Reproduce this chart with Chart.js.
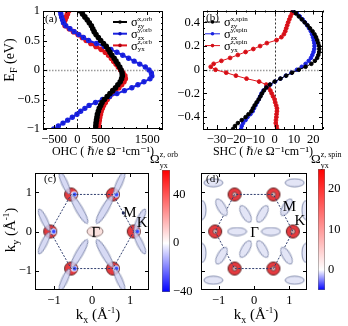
<!DOCTYPE html>
<html><head><meta charset="utf-8">
<script src="https://cdn.jsdelivr.net/npm/chart.js@4"></script>
<style>
html,body{margin:0;padding:0;background:#fff;}
#wrap{position:relative;width:348px;height:326px;overflow:hidden;background:#fff;}
canvas{position:absolute;}
</style></head><body><div id="wrap">
<canvas id="ca" width="175" height="162" style="left:0;top:0"></canvas>
<canvas id="cb" width="173" height="162" style="left:175px;top:0"></canvas>
<canvas id="cc" width="160" height="164" style="left:0;top:162px"></canvas>
<canvas id="cd" width="128" height="164" style="left:190px;top:162px"></canvas>
<canvas id="cbc" width="50" height="178" style="left:145px;top:148px"></canvas>
<canvas id="cbd" width="48" height="178" style="left:300px;top:148px"></canvas>
</div>
<script>
// ================= DATA =================
// Panel (a): orbital Hall conductivity vs Fermi energy
const ohcE = [1.00,0.95,0.90,0.85,0.80,0.75,0.70,0.65,0.60,0.55,0.50,0.45,0.40,0.35,0.30,0.25,0.20,0.15,0.10,0.05,0.00,
  -0.05,-0.10,-0.15,-0.20,-0.25,-0.30,-0.35,-0.40,-0.45,-0.50,-0.55,-0.60,-0.65,-0.70,-0.75,-0.80,-0.85,-0.90,-0.95,-1.00];
const ohcZY_xorb = [60,110,160,210,255,300,330,360,400,450,500,560,620,660,700,740,790,830,870,910,940,
  960,965,950,920,870,820,760,700,640,580,530,500,470,450,430,420,410,400,395,390];
const ohcZX_yorb = [-370,-355,-340,-320,-300,-250,-160,-70,30,130,240,410,580,720,850,975,1100,1220,1340,1460,1540,
  1590,1600,1560,1430,1300,1170,1010,850,690,540,390,250,160,70,-10,-110,-210,-310,-410,-510];
const ohcYX_zorb = [-190,-215,-240,-265,-290,-265,-175,-85,15,105,190,290,400,510,600,670,730,780,830,880,930,
  980,1020,1030,1000,950,890,820,750,690,640,600,560,535,510,495,480,470,460,455,450];
const ohcTicks = [-500,0,500,1500];
const eTicksA = [-1,-0.5,0,0.5,1];

// Panel (b): spin Hall conductivity vs Fermi energy
const shcE = [0.5,0.475,0.45,0.425,0.4,0.375,0.35,0.325,0.3,0.275,0.25,0.225,0.2,0.175,0.15,0.125,0.1,0.075,0.05,0.025,0,
  -0.025,-0.05,-0.075,-0.1,-0.125,-0.15,-0.175,-0.2,-0.225,-0.25,-0.275,-0.3,-0.325,-0.35,-0.375,-0.4,-0.425,-0.45,-0.475,-0.5];
const shcZY_xspin = [9.5,11,12.5,14,15.5,17,18.3,19.6,20.6,21.4,22,22.5,23,23.1,23,22.6,22,20.8,19,16,12.5,
  9,6,3,0,-2.5,-4.3,-5.5,-6.5,-7.3,-8.2,-9.3,-10.3,-11.2,-12,-13.5,-15,-17,-19,-20.5,-21.5];
const shcZX_yspin = [9.8,11.5,13,14.5,15.7,16.8,17.8,18.7,19.3,19.8,20.2,20.5,20.6,20.5,20.1,19.5,18.8,17.6,16,14,11.5,
  8.7,5.8,3,0.3,-2.2,-4.3,-5.8,-6.8,-7.5,-8.2,-9,-9.8,-10.6,-11.3,-12.5,-14,-15,-16.3,-17,-17.3];
const shcYX_zspin = [9.5,9,8.2,7.6,7,6.5,6,5.5,4.8,3.5,1,-4,-7.5,-11,-15,-19,-23,-27.5,-31.5,-33,-30.5,
  -25,-20,-14.5,-8,-4.3,-3.2,-2.2,-1.5,-0.8,0,0.3,0.8,1.2,1.2,1,0.9,0.7,0.6,1,1.3];
const shcTicks = [-30,-20,-10,0,10,20];
const eTicksB = [-0.4,-0.2,0,0.2,0.4];

// Panels (c),(d): Brillouin zone maps
const kTicks = [-1,0,1];
const hexKx = [1.1,0.55,-0.55,-1.1,-0.55,0.55,1.1];
const hexKy = [0,0.95,0.95,0,-0.95,-0.95,0];
const mPointX = [0.825];
const mPointY = [0.476];
const labelText = ['Γ','M','K'];
const labelCx = [0.1,1.0,1.32];
const labelCy = [-0.05,0.46,0.22];
const labelDx = [0.02,1.0,1.3];
const labelDy = [-0.05,0.62,0.26];
// (c) orbital Berry curvature lobes (blue-grey): long inner lobes and short outer lobes (kx, ky, orientation deg)
const orbInX = [-0.33,0.33,-0.33,0.33];
const orbInY = [0.56,0.56,-0.56,-0.56];
const orbInA = [-60,60,60,-60];
const orbOutX = [-0.72,0.72,-0.72,0.72,-1.26,-1.26,1.26,1.26];
const orbOutY = [1.24,1.24,-1.24,-1.24,0.3,-0.3,0.3,-0.3];
const orbOutA = [-66,66,66,-66,-64,64,64,-64];
const orbGammaX = [0.08];
const orbGammaY = [0.0];
// (d) spin Berry curvature ellipses
const spinLobeX = [-0.48,0.48,-0.24,0.24,-0.24,0.24,-1.15,1.15,-1.15,1.15,-0.92,0.92,-0.92,0.92,-1.47,1.47,-1.47,1.47];
const spinLobeY = [0,0,0.45,0.45,-0.45,-0.45,1.25,1.25,-1.25,-1.25,0.62,0.62,-0.62,-0.62,0.55,0.55,-0.55,-0.55];
const spinLobeA = [0,0,-60,60,60,-60,0,0,0,0,-60,60,60,-60,90,90,90,90];
const cbOrbTicks = [-40,0,40];
const cbOrbMin = -40, cbOrbMax = 60;
const cbSpinTicks = [0,10,20];
const cbSpinMin = -5, cbSpinMax = 25;

// legend labels (sigma sup/sub)
const legA = [{sup:'x,orb',sub:'zy'},{sup:'y,orb',sub:'zx'},{sup:'z,orb',sub:'yx'}];
const legB = [{sup:'x,spin',sub:'zy'},{sup:'y,spin',sub:'zx'},{sup:'z,spin',sub:'yx'}];

// ================= HELPERS =================
const FAM = '"Liberation Serif","DejaVu Serif",serif';
const pts = (xs, ys) => xs.map((x, i) => ({x: x, y: ys[i]}));
const minus = v => String(v).replace('-', '\u2212');

function partWidth(ctx, p) {
  if (p.stack) {
    ctx.font = p.stack.s + 'px ' + FAM;
    return Math.max(ctx.measureText(p.stack.sup).width, ctx.measureText(p.stack.sub).width);
  }
  ctx.font = (p.it ? 'italic ' : '') + p.s + 'px ' + FAM;
  return ctx.measureText(p.t).width;
}
function drawRich(ctx, parts, x, y, align, rot) {
  ctx.save();
  ctx.translate(x, y);
  if (rot) ctx.rotate(rot);
  let w = 0;
  parts.forEach(p => w += partWidth(ctx, p));
  let cx = align === 'center' ? -w / 2 : (align === 'right' ? -w : 0);
  ctx.fillStyle = '#000';
  ctx.textBaseline = 'alphabetic';
  ctx.textAlign = 'left';
  parts.forEach(p => {
    const pw = partWidth(ctx, p);
    if (p.stack) {
      ctx.font = p.stack.s + 'px ' + FAM;
      ctx.fillText(p.stack.sup, cx, p.stack.upY);
      ctx.fillText(p.stack.sub, cx, p.stack.dnY);
    } else {
      ctx.font = (p.it ? 'italic ' : '') + p.s + 'px ' + FAM;
      ctx.fillText(p.t, cx, p.dy || 0);
    }
    cx += pw;
  });
  ctx.restore();
}

const richPlugin = {
  id: 'rich',
  afterDraw(chart, args, opts) {
    (opts.items || []).forEach(it => drawRich(chart.ctx, it.parts, it.x, it.y, it.align, it.rot));
  }
};

const framePlugin = {
  id: 'frame',
  afterDraw(chart, args, opts) {
    const {ctx, chartArea: a, scales} = chart;
    ctx.save();
    ctx.strokeStyle = '#000';
    ctx.lineWidth = 1;
    ctx.strokeRect(Math.round(a.left) + 0.5, Math.round(a.top) + 0.5, Math.round(a.right - a.left) - 1, Math.round(a.bottom - a.top) - 1);
    const tick = (v, sc, len) => {
      const p = Math.round(sc.getPixelForValue(v)) + 0.5;
      ctx.beginPath();
      if (sc.axis === 'x') {
        ctx.moveTo(p, a.bottom); ctx.lineTo(p, a.bottom - len);
        ctx.moveTo(p, a.top); ctx.lineTo(p, a.top + len);
      } else {
        ctx.moveTo(a.left, p); ctx.lineTo(a.left + len, p);
        ctx.moveTo(a.right, p); ctx.lineTo(a.right - len, p);
      }
      ctx.stroke();
    };
    ['x', 'y'].forEach(k => {
      const sc = scales[k];
      if (!sc) return;
      sc.ticks.forEach(t => tick(t.value, sc, 4));
      const m = opts.minor && opts.minor[k];
      if (m) {
        for (let v = Math.ceil(sc.min / m) * m; v <= sc.max; v += m) tick(v, sc, 2);
      }
    });
    ctx.restore();
  }
};

const zeroPlugin = {
  id: 'zero',
  beforeDatasetsDraw(chart, args, opts) {
    if (!opts.on) return;
    const {ctx, chartArea: a, scales} = chart;
    ctx.save();
    const x0 = Math.round(scales.x.getPixelForValue(0)) + 0.5;
    const y0 = Math.round(scales.y.getPixelForValue(0)) + 0.5;
    ctx.strokeStyle = '#9a9a9a'; ctx.lineWidth = 1.5; ctx.setLineDash([1.5, 1.5]);
    ctx.beginPath(); ctx.moveTo(a.left, y0); ctx.lineTo(a.right, y0); ctx.stroke();
    ctx.strokeStyle = '#333'; ctx.lineWidth = 1; ctx.setLineDash([2, 2]);
    ctx.beginPath(); ctx.moveTo(x0, a.top); ctx.lineTo(x0, a.bottom); ctx.stroke();
    ctx.restore();
  }
};

const legendPlugin = {
  id: 'sigLeg',
  afterDraw(chart, args, opts) {
    if (!opts.items) return;
    const ctx = chart.ctx;
    opts.items.forEach((it, i) => {
      const ds = chart.data.datasets[i];
      const y = opts.y0 + i * opts.dy;
      ctx.save();
      ctx.strokeStyle = ds.borderColor; ctx.lineWidth = opts.lw;
      ctx.beginPath(); ctx.moveTo(opts.x0, y); ctx.lineTo(opts.x0 + opts.len, y); ctx.stroke();
      ctx.fillStyle = ds.backgroundColor;
      ctx.beginPath(); ctx.arc(opts.x0 + opts.len / 2, y, opts.pr, 0, Math.PI * 2); ctx.fill();
      ctx.restore();
      drawRich(ctx, [{t: 'σ', s: 12.5, dy: 4.3}, {stack: {sup: it.sup, sub: it.sub, s: 7, upY: -1.5, dnY: 6}}],
        opts.x0 + opts.len + 4, y, 'left', 0);
    });
  }
};

const textLabelPlugin = {
  id: 'klabels',
  afterDatasetsDraw(chart, args, opts) {
    if (!opts.text) return;
    const {ctx, scales} = chart;
    ctx.save();
    ctx.font = '15px ' + FAM; ctx.fillStyle = '#000';
    ctx.textAlign = 'center'; ctx.textBaseline = 'middle';
    opts.text.forEach((t, i) => ctx.fillText(t, scales.x.getPixelForValue(opts.xs[i]), scales.y.getPixelForValue(opts.ys[i])));
    ctx.restore();
  }
};

function ellipseImg(w, h, fill, stroke) {
  const c = document.createElement('canvas');
  c.width = w + 2; c.height = h + 2;
  const g = c.getContext('2d');
  g.beginPath();
  g.ellipse(c.width / 2, c.height / 2, w / 2, h / 2, 0, 0, Math.PI * 2);
  g.fillStyle = fill; g.fill();
  g.lineWidth = 0.7; g.strokeStyle = stroke; g.stroke();
  return c;
}
function kCircleImg(blueDot) {
  const c = document.createElement('canvas');
  c.width = 16; c.height = 16;
  const g = c.getContext('2d');
  g.beginPath(); g.arc(8, 8, 6.5, 0, Math.PI * 2);
  g.fillStyle = '#e63a3f'; g.fill();
  g.lineWidth = 1; g.strokeStyle = '#5a2020'; g.stroke();
  if (blueDot) {
    g.beginPath(); g.arc(11, 8, 3.2, 0, Math.PI * 2); g.fillStyle = '#dfe3ff'; g.fill();
    g.beginPath(); g.arc(11.5, 8, 2, 0, Math.PI * 2); g.fillStyle = '#3348ff'; g.fill();
  } else {
    g.beginPath(); g.arc(8, 8, 2.2, 0, Math.PI * 2); g.fillStyle = '#f4c0c0'; g.fill();
    g.lineWidth = 0.7; g.strokeStyle = '#333'; g.stroke();
  }
  return c;
}

const tickFont = {family: FAM, size: 12.5};
const baseOpts = () => ({
  responsive: false, animation: false, devicePixelRatio: 1,
  events: [],
  plugins: {legend: {display: false}, tooltip: {enabled: false}}
});
function linAxis(min, max, list, fitProp, fitVal, extra) {
  return Object.assign({
    type: 'linear', min: min, max: max,
    afterBuildTicks: s => { s.ticks = list.map(v => ({value: v})); },
    afterFit: s => { s[fitProp] = fitVal; },
    grid: {display: false, drawTicks: false},
    border: {display: false},
    ticks: {font: tickFont, color: '#000', padding: 3, maxRotation: 0, autoSkip: false, callback: v => minus(v)}
  }, extra || {});
}

// ================= PANEL (a) =================
(function () {
  const o = baseOpts();
  o.layout = {padding: {left: 0, right: 12, top: 11, bottom: 0}};
  o.scales = {
    x: linAxis(-740, 1840, ohcTicks, 'height', 33, {
      title: {display: true, text: 'OHC ( \u210F/e \u03A9\u207B\u00B9cm\u207B\u00B9)', font: {family: FAM, size: 12}, color: '#000', padding: {top: 0, bottom: 3}}
    }),
    y: linAxis(-1, 1, eTicksA, 'width', 43)
  };
  o.plugins.frame = {minor: {x: 250, y: 0.1}};
  o.plugins.zero = {on: true};
  o.plugins.rich = {items: [
    {parts: [{t: 'E', s: 14}, {t: 'F', s: 10, dy: 3}, {t: ' (eV)', s: 14}], x: 14, y: 60, align: 'center', rot: -Math.PI / 2},
    {parts: [{t: '(a)', s: 11}], x: 45, y: 22, align: 'left'}
  ]};
  o.plugins.sigLeg = {items: legA, x0: 113, y0: 22, dy: 11.7, len: 14, lw: 2, pr: 1.8};
  new Chart(document.getElementById('ca'), {
    type: 'scatter',
    data: {datasets: [
      {label: 'σ zy x,orb', data: pts(ohcZY_xorb, ohcE), showLine: true, borderColor: '#000000', backgroundColor: '#000000', borderWidth: 3, pointRadius: 1.3},
      {label: 'σ zx y,orb', data: pts(ohcZX_yorb, ohcE), showLine: true, borderColor: '#1a22e0', backgroundColor: '#0b10c0', borderWidth: 2, pointRadius: 1.7},
      {label: 'σ yx z,orb', data: pts(ohcYX_zorb, ohcE), showLine: true, borderColor: '#e0141c', backgroundColor: '#b00010', borderWidth: 3, pointRadius: 1.3}
    ]},
    options: o,
    plugins: [zeroPlugin, framePlugin, richPlugin, legendPlugin]
  });
})();

// ================= PANEL (b) =================
(function () {
  const o = baseOpts();
  o.layout = {padding: {left: 0, right: 25, top: 10, bottom: 0}};
  o.scales = {
    x: linAxis(-37, 25, shcTicks, 'height', 33, {
      title: {display: true, text: 'SHC ( \u210F/e \u03A9\u207B\u00B9cm\u207B\u00B9)', font: {family: FAM, size: 12}, color: '#000', padding: {top: 0, bottom: 3}}
    }),
    y: linAxis(-0.5, 0.5, eTicksB, 'width', 28)
  };
  o.plugins.frame = {minor: {x: 5, y: 0.05}};
  o.plugins.zero = {on: true};
  o.plugins.rich = {items: [
    {parts: [{t: '(b)', s: 11}], x: 31, y: 21, align: 'left'}
  ]};
  o.plugins.sigLeg = {items: legB, x0: 30, y0: 22, dy: 11.8, len: 15, lw: 1, pr: 1.8};
  new Chart(document.getElementById('cb'), {
    type: 'scatter',
    data: {datasets: [
      {label: 'σ zy x,spin', data: pts(shcZY_xspin, shcE), showLine: true, borderColor: '#000000', backgroundColor: '#000000', borderWidth: 1, pointRadius: 1.8},
      {label: 'σ zx y,spin', data: pts(shcZX_yspin, shcE), showLine: true, borderColor: '#1a22e0', backgroundColor: '#1a22e0', borderWidth: 1, pointRadius: 1.8},
      {label: 'σ yx z,spin', data: pts(shcYX_zspin, shcE), showLine: true, borderColor: '#e0141c', backgroundColor: '#d01018', borderWidth: 1, pointRadius: 1.9}
    ]},
    options: o,
    plugins: [zeroPlugin, framePlugin, richPlugin, legendPlugin]
  });
})();

// ================= PANELS (c),(d) =================
const lobeLong = ellipseImg(32, 7, 'rgba(208,212,242,0.85)', '#5a6690');
const lobeShort = ellipseImg(24, 6, 'rgba(208,212,242,0.85)', '#5a6690');
const lobeSpin = ellipseImg(19, 8, 'rgba(226,228,246,0.95)', '#5a6690');
const gammaBlob = ellipseImg(16, 10, 'rgba(250,225,222,1)', '#6a5050');
function bzChart(id, pad, showY, lobes, kImg, labels, extra) {
  const o = baseOpts();
  o.layout = {padding: pad};
  o.scales = {
    x: linAxis(-1.5, 1.5, kTicks, 'height', 36),
    y: linAxis(-1.5, 1.5, kTicks, 'width', showY ? 35 : 0, {display: showY})
  };
  o.plugins.frame = {};
  o.plugins.klabels = labels;
  o.plugins.rich = {items: extra.rich};
  const ds = [];
  lobes.forEach(l => ds.push({data: pts(l.x, l.y), pointStyle: l.img, rotation: l.a.map(a => -a), pointRadius: 10, showLine: false}));
  ds.push({data: pts(hexKx, hexKy), showLine: true, borderColor: '#2f3d6e', borderWidth: 1, borderDash: [2, 1.5], pointRadius: 0});
  ds.push({data: pts(hexKx.slice(0, 6), hexKy.slice(0, 6)), pointStyle: kImg, pointRadius: 8, showLine: false});
  ds.push({data: pts(mPointX, mPointY), pointRadius: 1.6, backgroundColor: '#1d2550', borderWidth: 0, showLine: false});
  new Chart(document.getElementById(id), {type: 'scatter', data: {datasets: ds}, options: o,
    plugins: [framePlugin, textLabelPlugin, richPlugin]});
}
const kLabelParts = [{t: 'k', s: 15}, {t: 'x', s: 10, dy: 4}, {t: ' (Å', s: 15}, {t: '-1', s: 9, dy: -6}, {t: ')', s: 15}];
bzChart('cc', {left: 0, right: 2, top: 8, bottom: 0}, true,
  [{x: orbInX, y: orbInY, a: orbInA, img: lobeLong}, {x: orbOutX, y: orbOutY, a: orbOutA, img: lobeShort},
   {x: orbGammaX, y: orbGammaY, a: [0], img: gammaBlob}],
  kCircleImg(true), {text: labelText, xs: labelCx, ys: labelCy},
  {rich: [
    {parts: [{t: '(c)', s: 11}], x: 44, y: 20, align: 'left'},
    {parts: kLabelParts, x: 98, y: 157, align: 'center'},
    {parts: [{t: 'k', s: 15}, {t: 'y', s: 10, dy: 4}, {t: ' (Å', s: 15}, {t: '-1', s: 9, dy: -6}, {t: ')', s: 15}], x: 15, y: 68, align: 'center', rot: -Math.PI / 2}
  ]});
bzChart('cd', {left: 5, right: 2, top: 7, bottom: 0}, false,
  [{x: spinLobeX, y: spinLobeY, a: spinLobeA, img: lobeSpin}],
  kCircleImg(false), {text: labelText, xs: labelDx, ys: labelDy},
  {rich: [
    {parts: [{t: '(d)', s: 11}], x: 16, y: 20, align: 'left'},
    {parts: kLabelParts, x: 66, y: 157, align: 'center'}
  ]});

// ================= COLORBARS =================
function colorbar(id, min, max, ticks, pad, axW, stops, title) {
  const o = baseOpts();
  o.layout = {padding: pad};
  o.scales = {
    x: {display: false},
    y: linAxis(min, max, ticks, 'width', axW, {position: 'right'})
  };
  o.plugins.rich = {items: title};
  new Chart(document.getElementById(id), {
    type: 'bar',
    data: {labels: ['c'], datasets: [{data: [[min, max]], barPercentage: 1, categoryPercentage: 1,
      borderWidth: 0.8, borderColor: '#666', borderSkipped: false,
      backgroundColor: ctx => {
        const ch = ctx.chart, y = ch.scales.y;
        if (!ch.chartArea || !y) return '#fff';
        const g = ch.ctx.createLinearGradient(0, y.getPixelForValue(min), 0, y.getPixelForValue(max));
        stops.forEach(s => g.addColorStop((s[0] - min) / (max - min), s[1]));
        return g;
      }}]},
    options: o,
    plugins: [richPlugin]
  });
}
colorbar('cbc', cbOrbMin, cbOrbMax, cbOrbTicks, {left: 17, right: 0, top: 22, bottom: 34}, 25,
  [[-40, '#0000ff'], [0, '#ffffff'], [60, '#ff0000']],
  [{parts: [{t: 'Ω', s: 13, dy: 0}, {stack: {sup: 'z, orb', sub: 'yx', s: 8, upY: -6, dnY: 5}}], x: 5, y: 15, align: 'left'}]);
colorbar('cbd', cbSpinMin, cbSpinMax, cbSpinTicks, {left: 18, right: 0, top: 21, bottom: 36}, 23,
  [[-5, '#0000ff'], [0, '#ffffff'], [25, '#ff0000']],
  [{parts: [{t: 'Ω', s: 13, dy: 0}, {stack: {sup: 'z, spin', sub: 'yx', s: 8, upY: -6, dnY: 5}}], x: 11, y: 15, align: 'left'}]);
</script></body></html>
